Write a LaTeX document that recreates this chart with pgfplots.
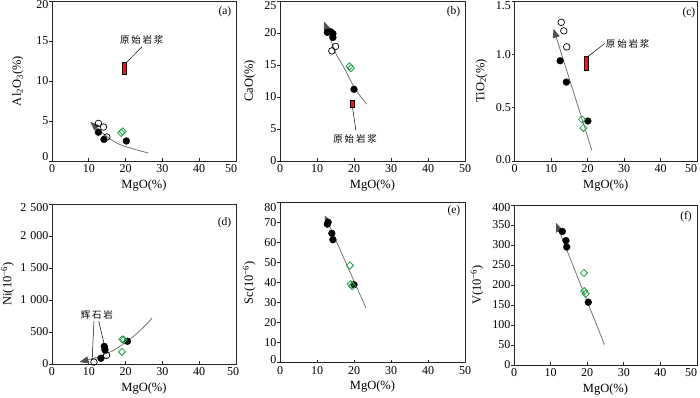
\documentclass[border=0pt]{standalone}
\usepackage{fontspec}
\setmainfont{Liberation Serif}
\newfontfamily\cjk{Noto Sans CJK SC}
\usepackage{pgfplots}
\pgfplotsset{compat=1.18}
\usetikzlibrary{arrows.meta}

\definecolor{dgreen}{RGB}{30,160,70}
\definecolor{mred}{RGB}{230,20,30}
\definecolor{trend}{RGB}{115,115,115}
\definecolor{headc}{RGB}{80,80,80}

% shift a tick label without moving its anchor
\newcommand{\dn}[2]{\raisebox{-#1}[\height][\depth]{#2}}
\newcommand{\up}[2]{\raisebox{#1}[\height][\depth]{#2}}
\newcommand{\rt}[1]{\makebox[0pt][r]{#1}}
\newcommand{\yj}{{\cjk\fontsize{9.5}{9.5}\selectfont 原\hspace{1.8pt}始\hspace{1.8pt}岩\hspace{1.8pt}浆}}
\newcommand{\hsy}{{\cjk\fontsize{9.5}{9.5}\selectfont 辉\hspace{1.8pt}石\hspace{1.8pt}岩}}

\tikzset{plab/.style={anchor=north east, inner sep=0pt, font=\fontsize{11.5}{11.5}\selectfont}}

\pgfplotsset{
  panel/.style={
    scale only axis, height=160pt,
    xmin=0, xmax=50, xtick={0,10,20,30,40,50},
    axis line style={black!85, line width=0.7pt},
    tick align=inside, major tick length=3pt, tick pos=left,
    ytick style={xshift=-3pt},
    tick style={black!85, line width=0.7pt},
    xlabel={MgO(\%)},
    label style={font=\fontsize{12.5}{12.5}\selectfont},
    tick label style={font=\fontsize{12}{12}\selectfont},
    /pgf/number format/assume math mode=true,
    ylabel style={yshift=2pt},
    clip=false,
  },
  filled/.style={only marks, mark=*, mark size=3.4pt, mark options={fill=black, draw=black}},
  opened/.style={only marks, mark=o, mark size=3.3pt, mark options={draw=black, fill=white, line width=0.7pt}},
  dia/.style={only marks, mark=square, mark size=2.5pt, mark options={rotate=45, draw=dgreen, fill=white, line width=0.8pt}},
  trendline/.style={trend, line width=0.8pt, -{Triangle[length=9pt,width=7pt,color=headc]}},
  magma/.style={fill=mred, draw=black, line width=0.5pt},
  leader/.style={black, line width=0.5pt},
}

\begin{document}
\begin{tikzpicture}
\path[use as bounding box] (0,0) rectangle (700pt,-397pt);

% (a) Al2O3
\begin{axis}[panel, at={(52pt,-1pt)}, anchor=north west, width=184pt,
  xticklabels={0,10,20,30,40,\rt{50\hspace{-1pt}}},
  ymin=0, ymax=20, ytick={0,5,10,15,20},
  yticklabels={\up{4pt}{0},5,10,15,\dn{3.7pt}{20}},
  ylabel={Al\textsubscript{2}O\textsubscript{3}(\%)}, ylabel style={yshift=4pt}]
\addplot[trendline, smooth] coordinates {(26.2,1.0) (22.5,1.45) (18.5,2.05) (15.5,2.85) (13,3.8) (10.4,4.9)};
\addplot[filled] coordinates {(12.6,3.6) (14.1,2.7) (20.2,2.5)};
\addplot[opened] coordinates {(12.6,4.7) (14.0,4.25) (14.9,3.0)};
\addplot[dia] coordinates {(18.8,3.5) (19.2,3.7)};
\addplot[magma] coordinates {(19.0,10.9) (20.2,10.9) (20.2,12.3) (19.0,12.3)} -- cycle;
\addplot[leader] coordinates {(20.2,12.3) (24.4,14.25)};
\node at (axis cs:24.4,15.2) {\yj};
\node[plab, xshift=-4.5pt, yshift=-5pt] at (rel axis cs:1,1) {(a)};
\end{axis}

% (b) CaO
\begin{axis}[panel, at={(280pt,-1pt)}, anchor=north west, width=185pt,
  ymin=0, ymax=25, ytick={0,5,10,15,20,25},
  yticklabels={0,5,10,15,20,\dn{4.4pt}{25}},
  ylabel={CaO(\%)}]
\addplot[trendline, smooth] coordinates {(23.4,8.9) (20.3,11.3) (17,14.9) (15.1,16.8) (13.5,19.3) (11.9,21.8)};
\addplot[filled] coordinates {(12.8,20.1) (13.7,20.2) (14.3,19.9) (14.3,19.3) (20.0,11.2)};
\addplot[opened] coordinates {(15.0,17.9) (14.0,17.2)};
\addplot[dia] coordinates {(18.8,14.8) (19.2,14.5)};
\addplot[magma] coordinates {(19.0,8.4) (20.0,8.4) (20.0,9.5) (19.0,9.5)} -- cycle;
\addplot[leader] coordinates {(19.6,8.4) (20.5,4.8)};
\node at (axis cs:20.3,3.5) {\yj};
\node[plab, xshift=-4.5pt, yshift=-5pt] at (rel axis cs:1,1) {(b)};
\end{axis}

% (c) TiO2
\begin{axis}[panel, at={(514.5pt,-1pt)}, anchor=north west, width=182.5pt,
  xticklabels={0,10,20,30,40,\rt{50}},
  ymin=0, ymax=1.5, ytick={0,0.5,1,1.5},
  yticklabels={\up{1pt}{0.0},0.5,1.0,\dn{4.5pt}{1.5}},
  ylabel={TiO\textsubscript{2}(\%)}]
\addplot[trendline] coordinates {(21.2,0.10) (10.7,1.24)};
\addplot[filled] coordinates {(12.5,0.94) (14.2,0.74) (20.1,0.375)};
\addplot[opened] coordinates {(12.8,1.30) (13.5,1.22) (14.3,1.07)};
\addplot[dia] coordinates {(18.5,0.39) (18.9,0.31)};
\addplot[magma] coordinates {(19.0,0.85) (20.1,0.85) (20.1,0.98) (19.0,0.98)} -- cycle;
\addplot[leader] coordinates {(20.1,0.98) (24.7,1.10)};
\node[anchor=west, inner sep=0pt] at (axis cs:25.0,1.10) {\yj};
\node[plab, xshift=-1.5pt, yshift=-6pt] at (rel axis cs:1,1) {(c)};
\end{axis}

% (d) Ni
\begin{axis}[panel, at={(52pt,-204pt)}, anchor=north west, width=184pt,
  xticklabels={0,10,20,30,40,\rt{50\hspace{-3pt}}},
  ymin=0, ymax=2500, ytick={0,500,1000,1500,2000,2500},
  yticklabels={0,500,1\hspace{4pt}000,1\hspace{4pt}500,2\hspace{4pt}000,\dn{4pt}{2\hspace{4pt}500}},
  ylabel={Ni(10\textsuperscript{−6})}, ylabel style={yshift=-2.5pt}]
\addplot[trendline, smooth] coordinates {(27.2,720) (25.8,628) (23.5,500) (21.3,394) (19,300) (16.7,211) (14.5,158) (12.2,106) (10,68) (7.45,30)};
\addplot[filled] coordinates {(14.2,275) (14.4,220) (13.3,90) (20.5,355)};
\addplot[opened] coordinates {(11.4,30) (14.8,135)};
\addplot[dia] coordinates {(19.1,385) (19.5,380) (19.0,190)};
\addplot[leader] coordinates {(11.4,670) (10.9,60)};
\addplot[leader] coordinates {(12.7,670) (14.2,305)};
\node at (axis cs:12.2,765) {\hsy};
\node[plab, xshift=-4.5pt, yshift=-13pt] at (rel axis cs:1,1) {(d)};
\end{axis}

% (e) Sc
\begin{axis}[panel, at={(280pt,-202.7pt)}, anchor=north west, width=185pt,
  ymin=0, ymax=80, ytick={0,10,20,30,40,50,60,70,80},
  yticklabels={\up{2.7pt}{0},10,20,30,40,50,60,70,\dn{5pt}{80}},
  ylabel={Sc(10\textsuperscript{−6})}]
\addplot[trendline] coordinates {(23.2,27.5) (12.1,73.7)};
\addplot[filled] coordinates {(12.8,69.3) (13.0,70.2) (14.0,64.7) (14.3,61.5) (20.0,39.0)};
\addplot[dia] coordinates {(18.9,48.6) (19.1,39.3) (19.5,38.3)};
\node[plab, xshift=-4.5pt, yshift=-3pt] at (rel axis cs:1,1) {(e)};
\end{axis}

% (f) V
\begin{axis}[panel, at={(514pt,-205pt)}, anchor=north west, width=183pt,
  xticklabels={0,10,20,30,40,\rt{50}},
  ymin=0, ymax=400, ytick={0,50,100,150,200,250,300,350,400},
  yticklabels={0,50,100,150,200,250,300,350,\dn{3pt}{400}},
  ylabel={V(10\textsuperscript{−6})}]
\addplot[trendline] coordinates {(24.7,51) (11.5,355)};
\addplot[filled] coordinates {(13.2,334) (14.2,311) (14.4,295) (20.3,157)};
\addplot[dia] coordinates {(19.1,230) (19.2,185) (19.6,178)};
\node[plab, xshift=-5pt, yshift=-6pt] at (rel axis cs:1,1) {(f)};
\end{axis}
\end{tikzpicture}
\end{document}
